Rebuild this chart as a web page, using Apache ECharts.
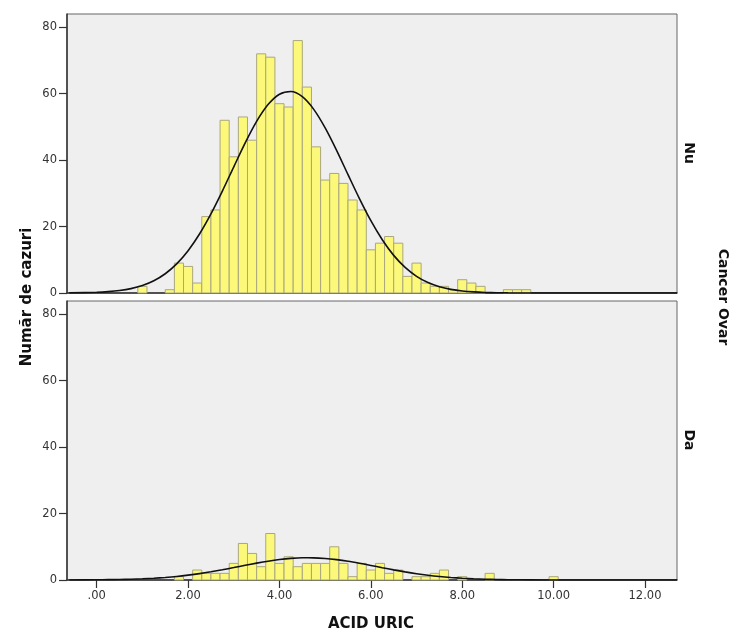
<!DOCTYPE html>
<html><head><meta charset="utf-8">
<script src="https://cdn.jsdelivr.net/npm/echarts@6/dist/echarts.min.js"></script>
<style>html,body{margin:0;padding:0;background:#fff}#c{width:730px;height:632px}</style>
</head><body><div id="c"></div>
<script>
// ---- data ----
const binCenters = [1.0,1.2,1.4,1.6,1.8,2.0,2.2,2.4,2.6,2.8,3.0,3.2,3.4,3.6,3.8,4.0,4.2,4.4,4.6,4.8,5.0,5.2,5.4,5.6,5.8,6.0,6.2,6.4,6.6,6.8,7.0,7.2,7.4,7.6,7.8,8.0,8.2,8.4,8.6,8.8,9.0,9.2,9.4,9.6,9.8,10.0];
const countsNu   = [2,0,0,1,9,8,3,23,25,52,41,53,46,72,71,57,56,76,62,44,34,36,33,28,25,13,15,17,15,5,9,3,2,2,1,4,3,2,0,0,1,1,1,0,0,0];
const countsDa   = [0,0,0,0,1,0,3,2,2,2,5,11,8,4,14,5,7,4,5,5,5,10,5,1,5,3,5,2,3,0,1,1,2,3,0,1,0,0,2,0,0,0,0,0,0,1];
const binWidth = 0.2;
const curveX  = [-0.6,0,0.25,0.5,0.75,1.0,1.25,1.5,1.75,2.0,2.25,2.5,2.75,3.0,3.25,3.5,3.75,4.0,4.25,4.5,4.75,5.0,5.25,5.5,5.75,6.0,6.25,6.5,6.75,7.0,7.25,7.5,7.75,8.0,8.25,8.5,8.75,9.0,9.5,10.0,12.7];
const curveNu = [0.04,0.21,0.40,0.74,1.32,2.25,3.68,5.79,8.75,12.72,17.76,23.81,30.69,37.99,45.20,51.66,56.72,59.85,60.67,59.09,55.29,49.71,42.95,35.64,28.42,21.77,16.03,11.33,7.70,5.03,3.15,1.90,1.10,0.61,0.33,0.17,0.08,0.04,0.01,0,0];
const curveDa = [0.01,0.06,0.10,0.15,0.24,0.36,0.54,0.77,1.07,1.46,1.92,2.47,3.08,3.74,4.42,5.07,5.66,6.15,6.50,6.68,6.67,6.49,6.13,5.64,5.04,4.39,3.71,3.05,2.44,1.90,1.44,1.06,0.76,0.53,0.36,0.24,0.15,0.09,0.03,0.01,0];
const xTickValues = [0,2,4,6,8,10,12];
const xTickLabels = ['.00','2.00','4.00','6.00','8.00','10.00','12.00'];
const yTickValues = [0,20,40,60,80];
const panelLabels = ['Nu','Da'];
const xTitle = 'ACID URIC';
const yTitle = 'Număr de cazuri';
const facetTitle = 'Cancer Ovar';

// ---- chart ----
const FONT = 'DejaVu Sans';
const chart = echarts.init(document.getElementById('c'), null, {renderer:'canvas'});
const grids = [
  {left:67, top:14, width:610, height:279},
  {left:67, top:301, width:610, height:279}
];
function barRender(params, api){
  const x = api.value(0), y = api.value(1);
  if (!y) return null;
  const p0 = api.coord([x - binWidth/2, y]);
  const p1 = api.coord([x + binWidth/2, 0]);
  return {type:'rect', shape:{x:p0[0], y:p0[1], width:p1[0]-p0[0], height:p1[1]-p0[1]},
    style:{fill:'#fbf87a', stroke:'#aaa77c', lineWidth:1}};
}
function xAxisDef(i, showLabels){
  return {type:'value', gridIndex:i, min:-0.65, max:12.7,
    axisLine:{show:true, onZero:false, lineStyle:{color:'#333', width:1.5}},
    axisTick:{show:showLabels, length:8, inside:false, customValues:xTickValues, lineStyle:{color:'#333', width:1.2}},
    axisLabel:{show:showLabels, customValues:xTickValues, margin:10, color:'#333', fontFamily:FONT, fontSize:11.5,
      formatter:v=>xTickLabels[xTickValues.indexOf(v)]},
    splitLine:{show:false}};
}
function yAxisDef(i){
  return {type:'value', gridIndex:i, min:0, max:84, position:'left',
    axisLine:{show:true, onZero:false, lineStyle:{color:'#333', width:1.5}},
    axisTick:{show:true, length:8, customValues:yTickValues, lineStyle:{color:'#333', width:1.2}},
    axisLabel:{customValues:yTickValues, margin:10, color:'#333', fontFamily:FONT, fontSize:11.5},
    splitLine:{show:false}};
}
const option = {
  animation:false,
  backgroundColor:'#fff',
  grid: grids.map(g=>Object.assign({show:true, backgroundColor:'#efefef', borderColor:'#666', borderWidth:1}, g)),
  xAxis:[xAxisDef(0,false), xAxisDef(1,true)],
  yAxis:[yAxisDef(0), yAxisDef(1)],
  series:[
    {type:'custom', xAxisIndex:0, yAxisIndex:0, renderItem:barRender, data:binCenters.map((c,i)=>[c,countsNu[i]])},
    {type:'custom', xAxisIndex:1, yAxisIndex:1, renderItem:barRender, data:binCenters.map((c,i)=>[c,countsDa[i]])},
    {type:'line', xAxisIndex:0, yAxisIndex:0, smooth:0.3, symbol:'none', lineStyle:{color:'#111', width:1.6},
      data:curveX.map((x,i)=>[x,curveNu[i]]), z:5},
    {type:'line', xAxisIndex:1, yAxisIndex:1, smooth:0.3, symbol:'none', lineStyle:{color:'#111', width:1.6},
      data:curveX.map((x,i)=>[x,curveDa[i]]), z:5}
  ],
  graphic:[
    {type:'text', x:27, y:297, rotation:Math.PI/2, style:{text:yTitle, font:'bold 15px '+FONT, fill:'#111', textAlign:'center', textVerticalAlign:'middle'}},
    {type:'text', x:371, y:624, style:{text:xTitle, font:'bold 15px '+FONT, fill:'#111', textAlign:'center', textVerticalAlign:'middle'}},
    {type:'text', x:723, y:297, rotation:-Math.PI/2, style:{text:facetTitle, font:'bold 14px '+FONT, fill:'#111', textAlign:'center', textVerticalAlign:'middle'}},
    {type:'text', x:689, y:153, rotation:-Math.PI/2, style:{text:panelLabels[0], font:'bold 14px '+FONT, fill:'#111', textAlign:'center', textVerticalAlign:'middle'}},
    {type:'text', x:689, y:440, rotation:-Math.PI/2, style:{text:panelLabels[1], font:'bold 14px '+FONT, fill:'#111', textAlign:'center', textVerticalAlign:'middle'}}
  ]
};
chart.setOption(option);
</script>
</body></html>
